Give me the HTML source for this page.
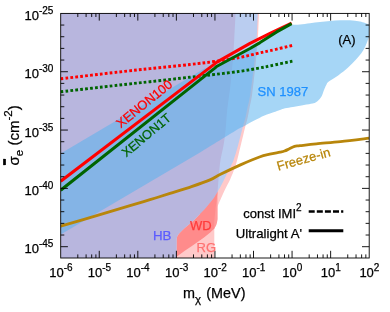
<!DOCTYPE html>
<html><head><meta charset="utf-8"><title>plot</title>
<style>
html,body{margin:0;padding:0;background:#fff;}
body{width:390px;height:312px;overflow:hidden;font-family:"Liberation Sans",sans-serif;}
svg{display:block;will-change:transform;}
</style></head><body>
<svg width="390" height="312" viewBox="0 0 390 312">
<defs><clipPath id="cp"><rect x="60.7" y="13.0" width="308.5" height="245.0"/></clipPath></defs>
<rect x="0" y="0" width="390" height="312" fill="#fff"/>
<g clip-path="url(#cp)">
<path fill="#ffc9c9" d="M60.7,13.0 L259.0,13.0  C258.80,17.50 258.30,32.17 257.80,40.00 C257.30,47.83 256.93,51.05 256.00,60.00 C255.07,68.95 253.28,85.70 252.20,93.70 C251.12,101.70 250.23,104.12 249.50,108.00 C248.77,111.88 248.52,113.83 247.80,117.00 C247.08,120.17 246.40,122.18 245.20,127.00 C244.00,131.82 242.17,139.57 240.60,145.90 C239.03,152.23 237.58,159.32 235.80,165.00 C234.02,170.68 231.32,176.67 229.90,180.00 C228.48,183.33 228.15,183.33 227.30,185.00 C226.45,186.67 225.60,188.33 224.80,190.00 C224.00,191.67 223.25,193.33 222.50,195.00 C221.75,196.67 221.02,198.37 220.30,200.00 C219.58,201.63 218.55,204.00 218.20,204.80 L217.5,207.0 L217.5,219.0 L217.0,222.5 L216.0,225.6 L214.3,228.6 L214.3,258.0 L60.7,258.0 Z"/>
<path fill="#ff9a9a" d="M217.5,190 L217.5,219 L217.0,222.5 L216.0,225.6 L214.3,228.6 L200,240 L200,200 Z"/>
<path fill="#ff8b8b" d="M176.6,258 L176.7,238.4 L177.3,236.3 L178.7,234.0 L180.6,232.0 L184.4,228.3 L189.2,224.2 L194.0,220.2 L199.2,214.8 L204.8,209.0 L210.4,202.3 L213.8,197.9 L217.6,191.8 L217.6,191.8 L215.6,208.0 L214.2,222.0 L214.3,228.6 L214.3,228.6 L210.5,232.3 L204.0,237.4 L197.6,241.9 L191.2,246.4 L184.8,250.8 L176.6,256.7 L176.6,258 Z"/>
<path fill="#bacdf0" d="M200.0,13.0 L257.8,13.0  C257.60,17.50 257.13,32.17 256.60,40.00 C256.07,47.83 255.63,51.05 254.60,60.00 C253.57,68.95 251.60,85.70 250.40,93.70 C249.20,101.70 248.20,104.12 247.40,108.00 C246.60,111.88 246.37,113.83 245.60,117.00 C244.83,120.17 244.08,122.18 242.80,127.00 C241.52,131.82 239.43,140.40 237.90,145.90 C236.37,151.40 234.68,156.82 233.60,160.00 C232.52,163.18 232.70,162.30 231.40,165.00 C230.10,167.70 227.53,172.73 225.80,176.20 C224.07,179.67 222.37,183.20 221.00,185.80 C219.63,188.40 218.17,190.80 217.60,191.80 L200.0,200.0 L200.0,13.0 Z"/>
<path fill="#b8b6de" d="M60.7,13.0 L235.6,13.0  C235.37,17.50 234.63,32.50 234.20,40.00 C233.77,47.50 233.62,50.50 233.00,58.00 C232.38,65.50 231.47,76.33 230.50,85.00 C229.53,93.67 228.02,102.50 227.20,110.00 C226.38,117.50 226.20,124.17 225.60,130.00 C225.00,135.83 224.45,140.00 223.60,145.00 C222.75,150.00 221.25,155.37 220.50,160.00 C219.75,164.63 219.52,168.47 219.10,172.80 C218.68,177.13 218.25,182.83 218.00,186.00 C217.75,189.17 217.67,190.83 217.60,191.80 L213.8,197.9 L210.4,202.3 L204.8,209.0 L199.2,214.8 L194.0,220.2 L189.2,224.2 L184.4,228.3 L180.6,232.0 L178.7,234.0 L177.3,236.3 L176.7,238.4 L176.6,258 L60.7,258.0 Z"/>
<path fill="rgba(86,178,238,0.53)" d="M60.7,153.4 L204.5,68.4 L214.8,68.1 L217,66.2 L250,48.5 L260,42.6 L276.7,31.9 L291.6,25.0 C293.00,24.93 296.93,24.90 300.00,24.60 C303.07,24.30 306.67,23.65 310.00,23.20 C313.33,22.75 316.67,22.28 320.00,21.90 C323.33,21.52 326.67,21.17 330.00,20.90 C333.33,20.63 336.67,20.40 340.00,20.30 C343.33,20.20 346.67,20.10 350.00,20.30 C353.33,20.50 356.83,20.82 360.00,21.50 C363.17,22.18 367.50,23.92 369.00,24.40 L369.0,37.0 C368.88,37.28 368.90,37.15 368.30,38.70 C367.70,40.25 366.53,43.90 365.40,46.30 C364.27,48.70 363.10,50.85 361.50,53.10 C359.90,55.35 358.03,57.40 355.80,59.80 C353.57,62.20 350.98,64.93 348.10,67.50 C345.22,70.07 341.72,72.85 338.50,75.20 C335.28,77.55 330.82,80.00 328.80,81.60 C326.78,83.20 327.27,83.23 326.40,84.80 C325.53,86.37 324.37,89.13 323.60,91.00 C322.83,92.87 322.57,94.53 321.80,96.00 C321.03,97.47 320.03,98.73 319.00,99.80 C317.97,100.87 316.93,101.73 315.60,102.40 C314.27,103.07 313.35,103.30 311.00,103.80 C308.65,104.30 304.50,104.87 301.50,105.40 C298.50,105.93 295.75,106.52 293.00,107.00 C290.25,107.48 287.17,107.80 285.00,108.30 C282.83,108.80 281.92,109.33 280.00,110.00 C278.08,110.67 276.08,111.40 273.50,112.30 C270.92,113.20 267.72,114.03 264.50,115.40 C261.28,116.77 257.62,118.70 254.20,120.50 C250.78,122.30 247.20,124.47 244.00,126.20 C240.80,127.93 242.33,126.53 235.00,130.90 C227.67,135.27 205.83,148.82 200.00,152.40 L60.7,234.6 Z"/>
<path fill="none" stroke="#b8860b" stroke-width="2.8" stroke-linejoin="round" d="M60.70,226.20 C67.25,224.28 88.45,218.12 100.00,214.70 C111.55,211.28 121.67,208.20 130.00,205.70 C138.33,203.20 143.33,201.75 150.00,199.70 C156.67,197.65 163.08,195.58 170.00,193.40 C176.92,191.22 184.83,188.85 191.50,186.60 C198.17,184.35 205.17,181.95 210.00,179.90 C214.83,177.85 215.33,176.85 220.50,174.30 C225.67,171.75 234.50,167.48 241.00,164.60 C247.50,161.72 254.72,158.73 259.50,157.00 C264.28,155.27 266.28,155.02 269.70,154.20 C273.12,153.38 277.53,152.63 280.00,152.10 C282.47,151.57 283.00,151.52 284.50,151.00 C286.00,150.48 287.33,149.77 289.00,149.00 C290.67,148.23 292.67,146.95 294.50,146.40 C296.33,145.85 296.37,146.13 300.00,145.70 C303.63,145.27 309.55,144.48 316.30,143.80 C323.05,143.12 331.72,142.53 340.50,141.60 C349.28,140.67 364.25,138.77 369.00,138.20"/>
<path fill="none" stroke="#ff0000" stroke-width="2.9" stroke-dasharray="2.75 2.17" d="M60.70,78.80 C70.25,77.68 103.12,73.80 118.00,72.10 C132.88,70.40 138.00,69.87 150.00,68.60 C162.00,67.33 179.17,65.70 190.00,64.50 C200.83,63.30 206.67,62.58 215.00,61.40 C223.33,60.22 232.50,58.83 240.00,57.40 C247.50,55.97 255.00,53.92 260.00,52.80 C265.00,51.68 264.60,51.93 270.00,50.70 C275.40,49.47 288.67,46.28 292.40,45.40"/>
<path fill="none" stroke="#006400" stroke-width="2.9" stroke-dasharray="2.75 2.17" d="M60.70,91.80 C70.25,90.70 103.12,86.88 118.00,85.20 C132.88,83.52 138.00,83.03 150.00,81.70 C162.00,80.37 179.17,78.42 190.00,77.20 C200.83,75.98 206.67,75.38 215.00,74.40 C223.33,73.42 232.50,72.38 240.00,71.30 C247.50,70.22 255.00,68.80 260.00,67.90 C265.00,67.00 264.60,67.02 270.00,65.90 C275.40,64.78 288.67,61.98 292.40,61.20"/>
<polyline fill="none" stroke="#ff0000" stroke-width="3.0" stroke-linejoin="round" points="60.7,181.2 214.4,64.1 216.4,62.4 250.0,43.4 270.0,33.4 291.6,23.0"/>
<polyline fill="none" stroke="#006400" stroke-width="3.0" stroke-linejoin="round" points="60.7,190.2 214.8,68.1 217.0,66.2 250.0,48.5 260.0,42.6 276.7,31.9 291.6,23.6"/>
</g>
<g stroke="#000" stroke-width="0.9" fill="none">
<rect x="60.7" y="13.4" width="308.5" height="244.6"/>
<path d="M77.80,13.4 v3.6 M77.80,258.0 v-3.6 M86.10,13.4 v3.6 M86.10,258.0 v-3.6 M91.70,13.4 v3.6 M91.70,258.0 v-3.6 M95.90,13.4 v3.6 M95.90,258.0 v-3.6 M99.26,13.4 v7.2 M99.26,258.0 v-7.2 M116.36,13.4 v3.6 M116.36,258.0 v-3.6 M124.66,13.4 v3.6 M124.66,258.0 v-3.6 M130.26,13.4 v3.6 M130.26,258.0 v-3.6 M134.46,13.4 v3.6 M134.46,258.0 v-3.6 M137.82,13.4 v7.2 M137.82,258.0 v-7.2 M154.92,13.4 v3.6 M154.92,258.0 v-3.6 M163.22,13.4 v3.6 M163.22,258.0 v-3.6 M168.82,13.4 v3.6 M168.82,258.0 v-3.6 M173.02,13.4 v3.6 M173.02,258.0 v-3.6 M176.39,13.4 v7.2 M176.39,258.0 v-7.2 M193.49,13.4 v3.6 M193.49,258.0 v-3.6 M201.79,13.4 v3.6 M201.79,258.0 v-3.6 M207.39,13.4 v3.6 M207.39,258.0 v-3.6 M211.59,13.4 v3.6 M211.59,258.0 v-3.6 M214.95,13.4 v7.2 M214.95,258.0 v-7.2 M232.05,13.4 v3.6 M232.05,258.0 v-3.6 M240.35,13.4 v3.6 M240.35,258.0 v-3.6 M245.95,13.4 v3.6 M245.95,258.0 v-3.6 M250.15,13.4 v3.6 M250.15,258.0 v-3.6 M253.51,13.4 v7.2 M253.51,258.0 v-7.2 M270.61,13.4 v3.6 M270.61,258.0 v-3.6 M278.91,13.4 v3.6 M278.91,258.0 v-3.6 M284.51,13.4 v3.6 M284.51,258.0 v-3.6 M288.71,13.4 v3.6 M288.71,258.0 v-3.6 M292.07,13.4 v7.2 M292.07,258.0 v-7.2 M309.18,13.4 v3.6 M309.18,258.0 v-3.6 M317.47,13.4 v3.6 M317.47,258.0 v-3.6 M323.07,13.4 v3.6 M323.07,258.0 v-3.6 M327.27,13.4 v3.6 M327.27,258.0 v-3.6 M330.64,13.4 v7.2 M330.64,258.0 v-7.2 M347.74,13.4 v3.6 M347.74,258.0 v-3.6 M356.04,13.4 v3.6 M356.04,258.0 v-3.6 M361.64,13.4 v3.6 M361.64,258.0 v-3.6 M365.84,13.4 v3.6 M365.84,258.0 v-3.6 M60.7,25.06 h3.6 M369.2,25.06 h-3.6 M60.7,36.73 h3.6 M369.2,36.73 h-3.6 M60.7,48.39 h3.6 M369.2,48.39 h-3.6 M60.7,60.06 h3.6 M369.2,60.06 h-3.6 M60.7,71.72 h7.2 M369.2,71.72 h-7.2 M60.7,83.39 h3.6 M369.2,83.39 h-3.6 M60.7,95.06 h3.6 M369.2,95.06 h-3.6 M60.7,106.72 h3.6 M369.2,106.72 h-3.6 M60.7,118.38 h3.6 M369.2,118.38 h-3.6 M60.7,130.05 h7.2 M369.2,130.05 h-7.2 M60.7,141.72 h3.6 M369.2,141.72 h-3.6 M60.7,153.38 h3.6 M369.2,153.38 h-3.6 M60.7,165.04 h3.6 M369.2,165.04 h-3.6 M60.7,176.71 h3.6 M369.2,176.71 h-3.6 M60.7,188.38 h7.2 M369.2,188.38 h-7.2 M60.7,200.04 h3.6 M369.2,200.04 h-3.6 M60.7,211.70 h3.6 M369.2,211.70 h-3.6 M60.7,223.37 h3.6 M369.2,223.37 h-3.6 M60.7,235.03 h3.6 M369.2,235.03 h-3.6 M60.7,246.70 h7.2 M369.2,246.70 h-7.2 "/>
</g>
<g font-family="Liberation Sans, sans-serif" font-size="13" fill="#000" stroke="#000" stroke-width="0.25">
<text x="53.4" y="20.0" text-anchor="end">10<tspan font-size="10" dy="-5.9">-25</tspan></text>
<text x="53.4" y="78.3" text-anchor="end">10<tspan font-size="10" dy="-5.9">-30</tspan></text>
<text x="53.4" y="136.6" text-anchor="end">10<tspan font-size="10" dy="-5.9">-35</tspan></text>
<text x="53.4" y="195.0" text-anchor="end">10<tspan font-size="10" dy="-5.9">-40</tspan></text>
<text x="53.4" y="253.3" text-anchor="end">10<tspan font-size="10" dy="-5.9">-45</tspan></text>
<text x="60.9" y="277.1" text-anchor="middle">10<tspan font-size="10" dy="-6.0">-6</tspan></text>
<text x="99.5" y="277.1" text-anchor="middle">10<tspan font-size="10" dy="-6.0">-5</tspan></text>
<text x="138.0" y="277.1" text-anchor="middle">10<tspan font-size="10" dy="-6.0">-4</tspan></text>
<text x="176.6" y="277.1" text-anchor="middle">10<tspan font-size="10" dy="-6.0">-3</tspan></text>
<text x="215.1" y="277.1" text-anchor="middle">10<tspan font-size="10" dy="-6.0">-2</tspan></text>
<text x="253.7" y="277.1" text-anchor="middle">10<tspan font-size="10" dy="-6.0">-1</tspan></text>
<text x="292.3" y="277.1" text-anchor="middle">10<tspan font-size="10" dy="-6.0">0</tspan></text>
<text x="330.8" y="277.1" text-anchor="middle">10<tspan font-size="10" dy="-6.0">1</tspan></text>
<text x="369.4" y="277.1" text-anchor="middle">10<tspan font-size="10" dy="-6.0">2</tspan></text>
<text x="183.1" y="298.4" font-size="14.4">m<tspan font-size="11.5" dy="4.4">&#967;</tspan></text>
<text x="206.3" y="298.4" font-size="14.6" textLength="39.2" lengthAdjust="spacingAndGlyphs">(MeV)</text>
<g transform="translate(19.0,165.4) rotate(-90)"><text x="0" y="0" font-size="15">&#963;<tspan font-size="11.5" dy="4.4">e</tspan><tspan dy="-4.4"> (cm</tspan><tspan font-size="11.5" dy="-6.6">-2</tspan><tspan dy="6.6">)</tspan></text><rect x="0.4" y="-15.8" width="6.0" height="2.6" fill="#000"/></g>
<text x="346.9" y="44.0" text-anchor="middle">(A)</text>
<text x="257.6" y="95.7" fill="#1e90ff" stroke="#1e90ff">SN 1987</text>
<text x="153" y="239.9" font-size="13.3" fill="#5c5cff" stroke="#5c5cff">HB</text>
<text x="190" y="230.1" fill="#ff3c3c" stroke="#ff3c3c">WD</text>
<text x="196.6" y="251.9" fill="#ff7272" stroke="#ff7272">RG</text>
<text transform="translate(120.7,128.4) rotate(-39.0)" font-size="12.95" fill="#ff0000" stroke="#ff0000">XENON100</text>
<text transform="translate(126.2,157.6) rotate(-40.0)" font-size="12.65" fill="#006400" stroke="#006400">XENON1T</text>
<text transform="translate(278.3,170.8) rotate(-15.7)" fill="#b8860b" stroke="#b8860b">Freeze-in</text>
<text x="243.3" y="218.0">const IMI<tspan font-size="10" dy="-6.7">2</tspan></text>
<text x="235.7" y="237.5" font-size="13.2">Ultralight A'</text>
</g>
<path d="M308.7,211.5 H343.3" stroke="#000" stroke-width="2.7" stroke-dasharray="6 2.1" fill="none"/>
<path d="M308.7,230.7 H343.3" stroke="#000" stroke-width="2.9" fill="none"/>
</svg>
</body></html>
